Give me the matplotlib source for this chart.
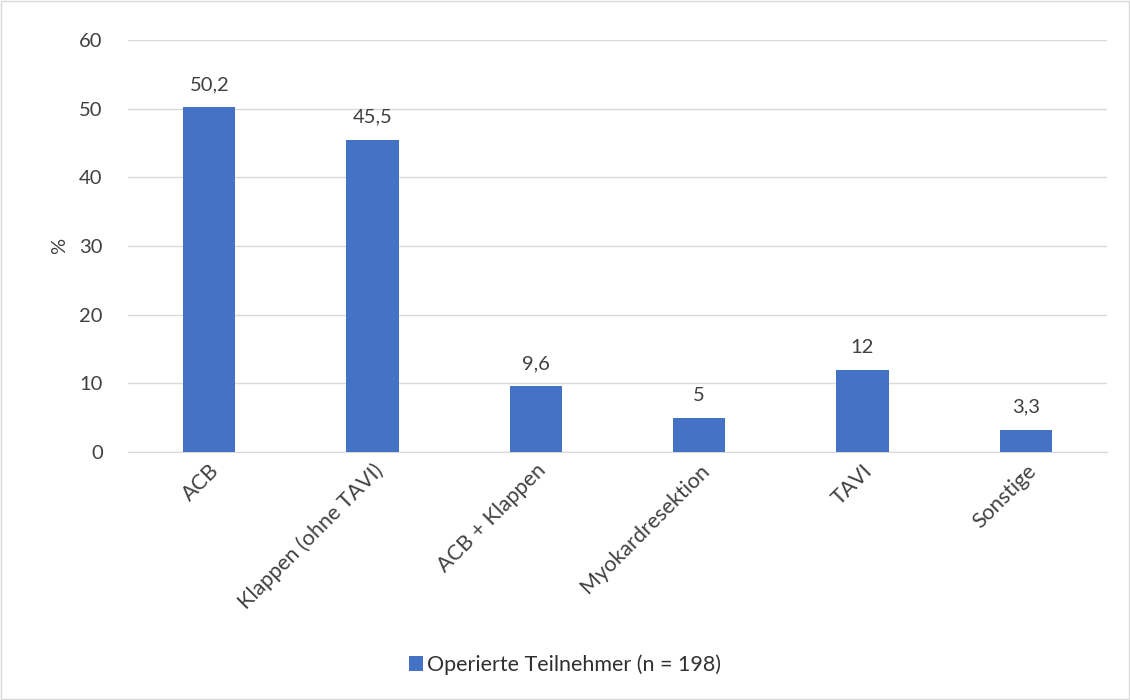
import matplotlib
matplotlib.use("Agg")
from matplotlib import pyplot as plt
from matplotlib.patches import Rectangle

# Data
categories = ["ACB", "Klappen (ohne TAVI)", "ACB + Klappen", "Myokardresektion", "TAVI", "Sonstige"]
values = [50.2, 45.5, 9.6, 5, 12, 3.3]
value_labels = ["50,2", "45,5", "9,6", "5", "12", "3,3"]
series_name = "Operierte Teilnehmer (n = 198)"

plt.rcParams['font.family'] = ['Lato', 'DejaVu Sans']
fs = 14.5
txt = '#404040'

fig = plt.figure(figsize=(11.3, 7), dpi=100)
ax = fig.add_axes([0.113, 0.354, 0.867, 0.589])

x = range(len(categories))
bars = ax.bar(x, values, width=0.32, color='#4472C4', zorder=3, label=series_name)

for xi, v, lab in zip(x, values, value_labels):
    ax.text(xi, v + 2.0, lab, ha='center', va='bottom', fontsize=fs, color=txt)

ax.set_xlim(-0.5, len(categories) - 0.5)
ax.set_ylim(0, 60)
ax.set_yticks(range(0, 61, 10))
ax.yaxis.grid(True, color='#D9D9D9', linewidth=1, zorder=0)
for s in ['top', 'right', 'left']:
    ax.spines[s].set_visible(False)
ax.spines['bottom'].set_color('#D9D9D9')
ax.tick_params(axis='both', length=0, labelsize=fs, labelcolor=txt)
ax.tick_params(axis='y', pad=18)
ax.tick_params(axis='x', pad=6, labelsize=15.5)
ax.set_xticks(list(x))
ax.set_xticklabels(categories, rotation=45, ha='right', rotation_mode='anchor')
ax.set_ylabel("%", fontsize=fs, color=txt, labelpad=8)

fig.legend(loc='lower center', bbox_to_anchor=(0.5, 0.008), frameon=False, fontsize=15.5,
           handlelength=0.65, handleheight=0.65, handletextpad=0.2, labelcolor='#303030')

fig.patches.append(Rectangle((0.001, 0.001), 0.998, 0.998, transform=fig.transFigure,
                             fill=False, edgecolor='#D9D9D9', linewidth=1))

fig.savefig("out.png", dpi=100)
